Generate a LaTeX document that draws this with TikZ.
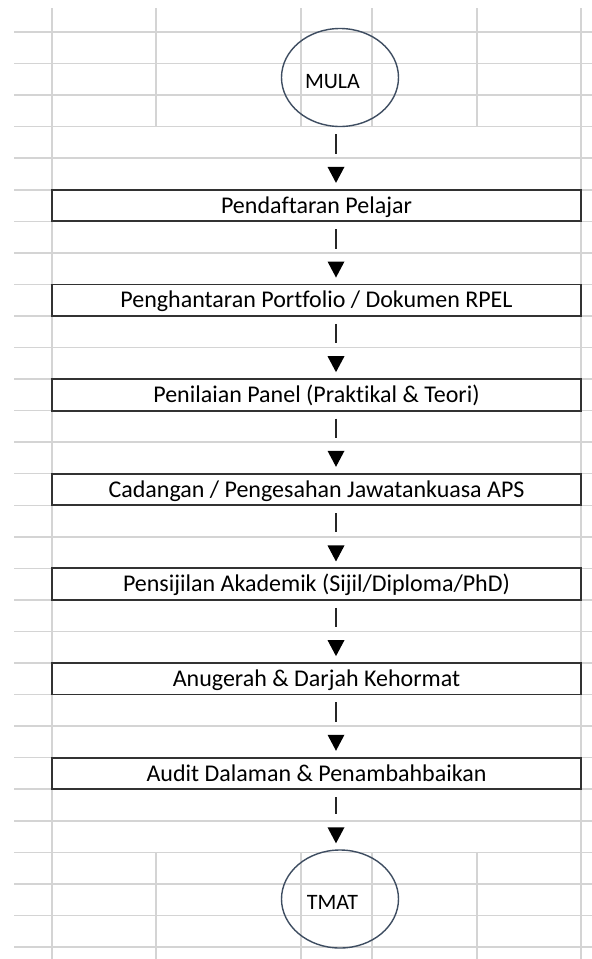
\documentclass[tikz,border=0pt]{standalone}
\usepackage{fontspec}
\setmainfont{Carlito}[Ligatures=NoCommon]
\usetikzlibrary{shapes.geometric,decorations.markings}
\definecolor{gridc}{RGB}{212,212,212}
\definecolor{boxc}{RGB}{50,50,50}
\definecolor{termc}{RGB}{62,77,97}
\begin{document}
\begin{tikzpicture}[x=1pt,y=-1pt,
  gridline/.style={draw=gridc,line width=1.5pt},
  stepbox/.style={draw=boxc,line width=1.8pt,minimum width=529pt,minimum height=31.55pt,
    inner sep=0pt,text height=15.4pt,text depth=0pt,font=\fontsize{24}{28}\selectfont},
  term/.style={ellipse,draw=termc,line width=1.4pt,minimum width=117pt,minimum height=98pt,
    inner sep=0pt,text height=21.2pt,text depth=0pt,font=\fontsize{22}{26}\selectfont,
    execute at begin node={\hspace*{-15pt}}},
  conn/.style={draw=black!85,line width=1.8pt,shorten <=7pt,shorten >=35pt,
    postaction={decorate},
    decoration={markings,mark=at position -6pt with
      {\fill[black] (0,0) -- (-16pt,8.5pt) -- (-16pt,-8.5pt) -- cycle;}}}
]
\fill[white] (0,0) rectangle (592,959);
\useasboundingbox (0,0) rectangle (592,959);
% grid
\foreach \k in {0,...,29} \draw[gridline] (14,{32+31.55*\k}) -- (592,{32+31.55*\k});
\foreach \x in {52,581} \draw[gridline] (\x,8) -- (\x,959);
\foreach \x in {156,301,372,477} {
  \draw[gridline] (\x,8) -- (\x,126.65);
  \draw[gridline] (\x,852.35) -- (\x,959);
}
\coordinate (ax) at (336,0);
% nodes
\node[term] (mula) at (340,77.5) {MULA};
\node[stepbox] (b1) at (316.5,205.53) {Pendaftaran Pelajar};
\node[stepbox] (b2) at (316.5,300.18) {Penghantaran Portfolio / Dokumen RPEL};
\node[stepbox] (b3) at (316.5,394.83) {Penilaian Panel (Praktikal \& Teori)};
\node[stepbox] (b4) at (316.5,489.48) {Cadangan / Pengesahan Jawatankuasa APS};
\node[stepbox] (b5) at (316.5,584.13) {Pensijilan Akademik (Sijil/Diploma/PhD)};
\node[stepbox] (b6) at (316.5,678.78) {Anugerah \& Darjah Kehormat};
\node[stepbox] (b7) at (316.5,773.43) {Audit Dalaman \& Penambahbaikan};
\node[term] (tmat) at (340,899) {TMAT};
% connectors
\draw[conn] (mula.south -| ax) -- (b1.north -| ax);
\draw[conn] (b1.south -| ax) -- (b2.north -| ax);
\draw[conn] (b2.south -| ax) -- (b3.north -| ax);
\draw[conn] (b3.south -| ax) -- (b4.north -| ax);
\draw[conn] (b4.south -| ax) -- (b5.north -| ax);
\draw[conn] (b5.south -| ax) -- (b6.north -| ax);
\draw[conn] (b6.south -| ax) -- (b7.north -| ax);
\draw[conn] (b7.south -| ax) -- (tmat.north -| ax);
\end{tikzpicture}
\end{document}
